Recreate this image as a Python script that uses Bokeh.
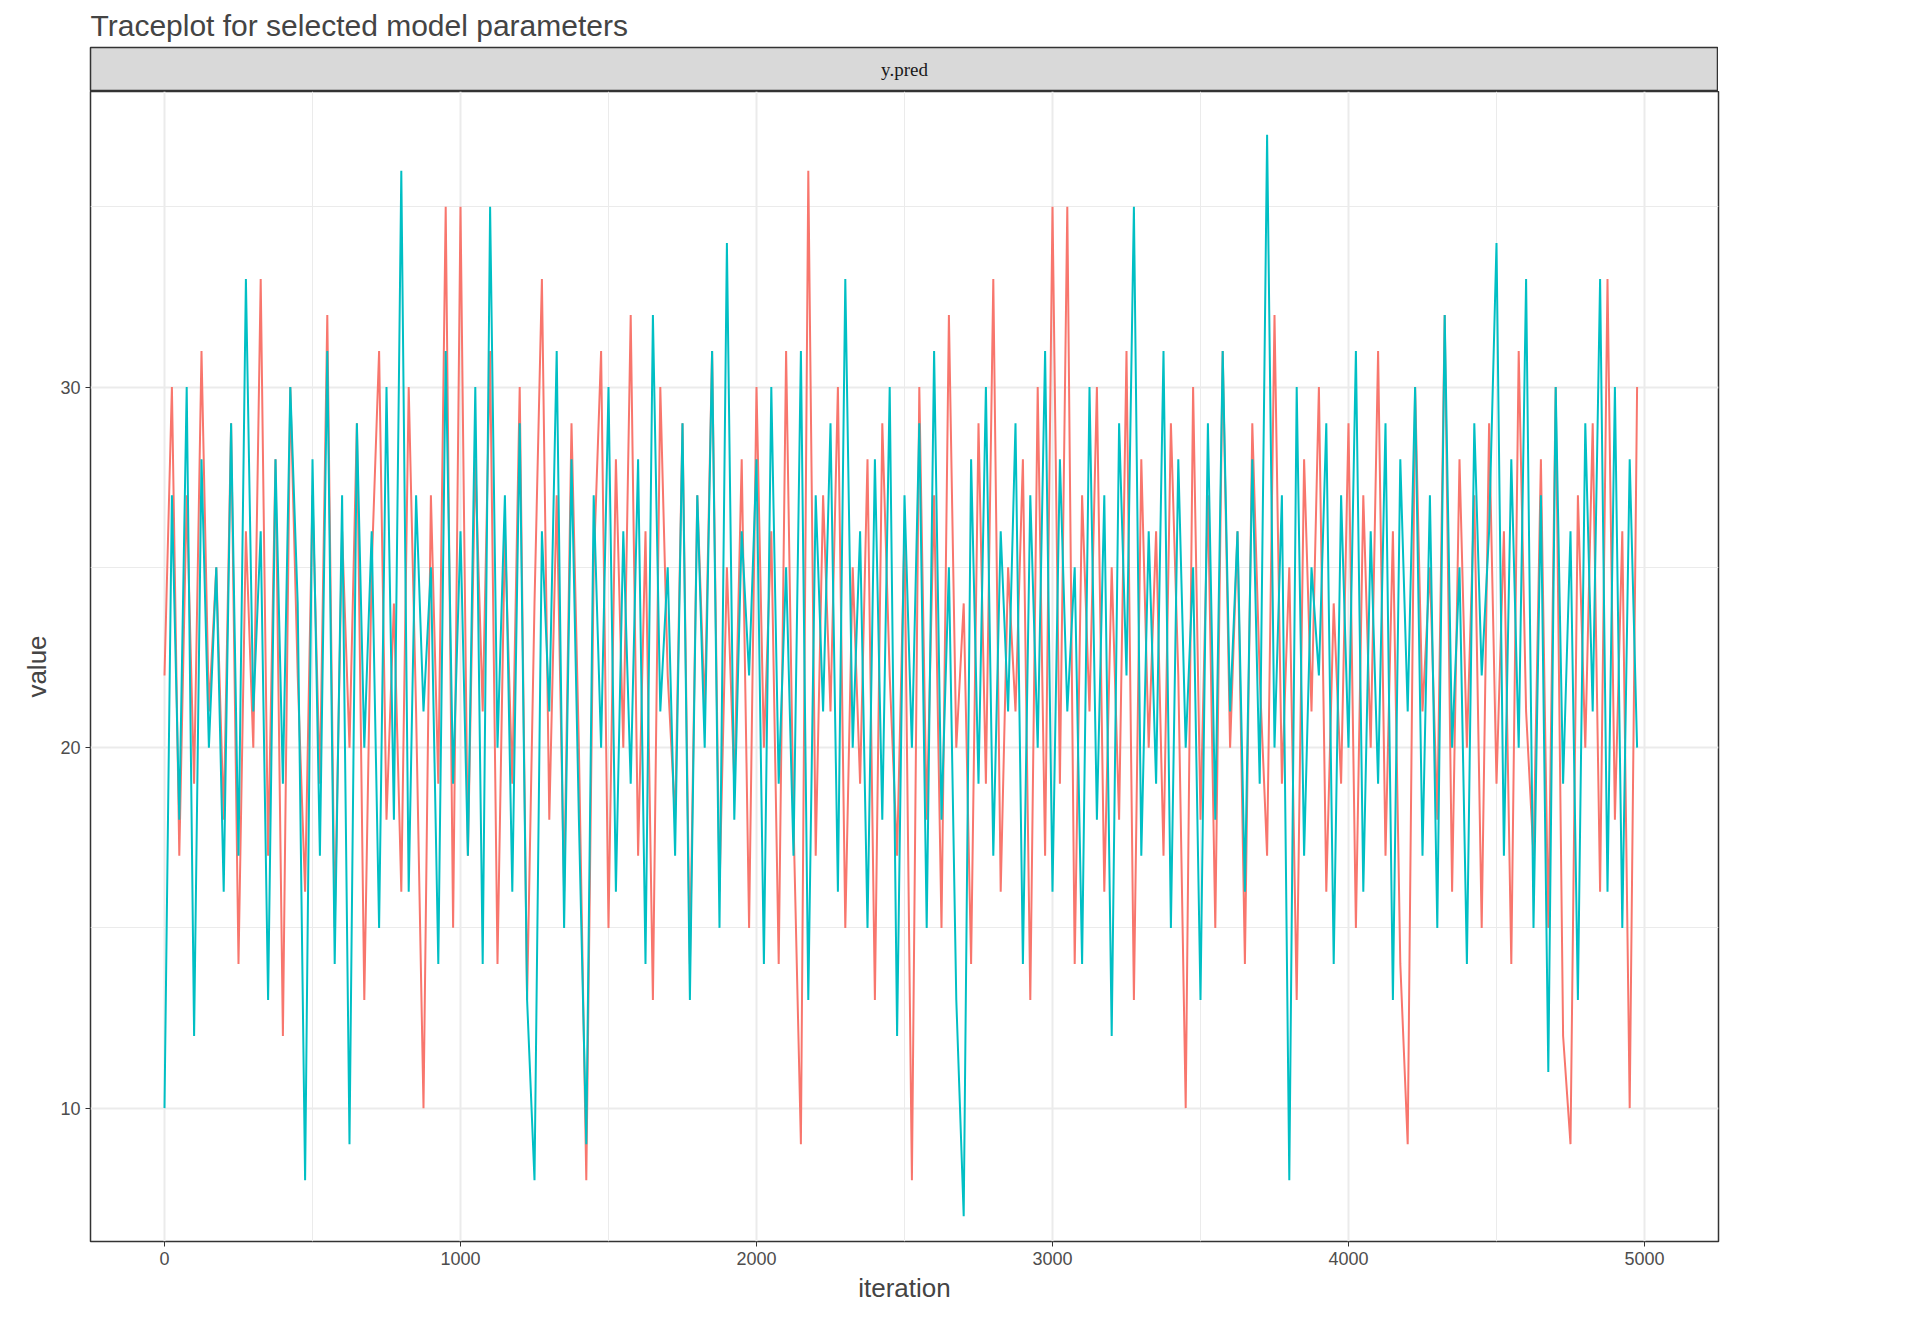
from bokeh.plotting import figure
from bokeh.models import Legend, LegendItem, FixedTicker, Range1d
from bokeh.layouts import column
from bokeh.embed import file_html
from bokeh.resources import INLINE

step = 25
chain1 = [
22,30,17,27,19,31,21,25,18,29,14,26,20,33,17,28,12,30,22,16,
27,19,32,15,26,20,29,13,25,31,18,24,16,30,21,10,27,19,35,15,
35,17,28,21,31,14,26,19,30,13,24,33,18,27,16,29,20,8,25,31,
15,28,20,32,17,26,13,30,22,18,29,14,27,21,31,16,25,19,28,15,
30,20,26,14,31,18,9,36,17,27,21,30,15,25,19,28,13,29,22,17,
26,8,30,18,27,15,32,20,24,14,29,19,33,16,25,21,28,13,30,17,
35,19,35,14,27,21,30,16,25,18,31,13,28,20,26,17,29,22,10,30,
18,27,15,31,20,26,14,29,22,17,32,19,25,13,28,21,30,16,24,19,
29,15,27,20,31,17,26,14,9,30,21,25,18,32,16,28,20,27,15,29,
19,26,14,31,21,17,28,15,30,12,9,27,20,29,16,33,18,26,10,30]
chain2 = [
10,27,18,30,12,28,20,25,16,29,17,33,21,26,13,28,19,30,24,8,
28,17,31,14,27,9,29,20,26,15,30,18,36,16,27,21,25,14,31,19,
26,17,30,14,35,20,27,16,29,13,8,26,21,31,15,28,18,9,27,20,
30,16,26,19,28,14,32,21,25,17,29,13,27,20,31,15,34,18,26,22,
28,14,30,19,25,17,31,13,27,21,29,16,33,20,26,15,28,18,30,12,
27,20,29,15,31,18,25,13,7,28,19,30,17,26,21,29,14,27,20,31,
16,28,21,25,14,30,18,27,12,29,22,35,17,26,19,31,15,28,20,25,
13,29,18,31,21,26,16,28,19,37,20,27,8,30,17,25,22,29,14,27,
20,31,16,26,19,29,13,28,21,30,17,27,15,32,20,25,14,29,22,26,
34,17,28,20,33,15,27,11,30,19,26,13,29,21,33,16,30,15,28,20]
iters1 = [i * step for i in range(len(chain1))]
iters2 = [i * step for i in range(len(chain2))]
x_ticks = [0, 1000, 2000, 3000, 4000, 5000]
y_ticks = [10, 20, 30]
panel_label = "y.pred"
FW = 1628
LB = 90

# facet strip with main title
s = figure(frame_width=FW, frame_height=44, output_backend="svg", toolbar_location=None,
           x_range=Range1d(0, 1), y_range=Range1d(0, 1),
           title="Traceplot for selected model parameters",
           min_border_left=LB, min_border_right=0, min_border_bottom=0, min_border_top=4)
s.axis.visible = False
s.grid.visible = False
s.background_fill_color = "#D9D9D9"
s.outline_line_color = "#333333"
s.outline_line_width = 1.5
s.title.text_font_size = "30px"
s.title.text_font_style = "normal"
s.title.text_font = "Liberation Sans"
s.title.standoff = 12
s.text(x=[0.5], y=[0.5], text=[panel_label], text_align="center", text_baseline="middle",
       text_font_size="19px", text_color="#1A1A1A", text_font="Liberation Sans")

p = figure(frame_width=FW, frame_height=1150, output_backend="svg", toolbar_location=None,
           x_range=Range1d(-250, 5250), y_range=Range1d(6.3, 38.2),
           min_border_left=LB, min_border_top=0, min_border_bottom=10)
p.background_fill_color = "white"
p.outline_line_color = "#333333"
p.outline_line_width = 1.5

r1 = p.line(iters1, chain1, color="#F8766D", line_width=2)
r2 = p.line(iters2, chain2, color="#00BFC4", line_width=2)

for ax in (p.xaxis, p.yaxis):
    ax.major_label_text_font_size = "18px"
    ax.major_label_text_color = "#4D4D4D"
    ax.axis_label_text_font_size = "26px"
    ax.axis_label_text_font_style = "normal"
    ax.axis_label_text_font = "Liberation Sans"
    ax.major_label_text_font = "Liberation Sans"
    ax.axis_line_color = None
    ax.major_tick_line_color = "#333333"
    ax.minor_tick_line_color = None
    ax.major_tick_out = 5
    ax.major_tick_in = 0
p.xaxis.axis_label = "iteration"
p.yaxis.axis_label = "value"
p.xaxis.ticker = FixedTicker(ticks=x_ticks, minor_ticks=[500, 1500, 2500, 3500, 4500])
p.yaxis.ticker = FixedTicker(ticks=y_ticks, minor_ticks=[15, 25, 35])
for g in (p.xgrid, p.ygrid):
    g.grid_line_color = "#EBEBEB"
    g.grid_line_width = 2
    g.minor_grid_line_color = "#EBEBEB"
    g.minor_grid_line_width = 1

legend = Legend(items=[LegendItem(label="Chain1", renderers=[r1]),
                       LegendItem(label="Chain2", renderers=[r2])],
                title="chain", title_text_font_size="26px", title_text_font="Liberation Sans",
                title_text_font_style="normal",
                label_text_font_size="20px", label_text_font="Liberation Sans",
                border_line_color=None, glyph_width=40, spacing=12,
                location="center", label_standoff=10)
p.add_layout(legend, "right")

layout = column(s, p, spacing=0)
open("out.html", "w").write(file_html(layout, INLINE))
